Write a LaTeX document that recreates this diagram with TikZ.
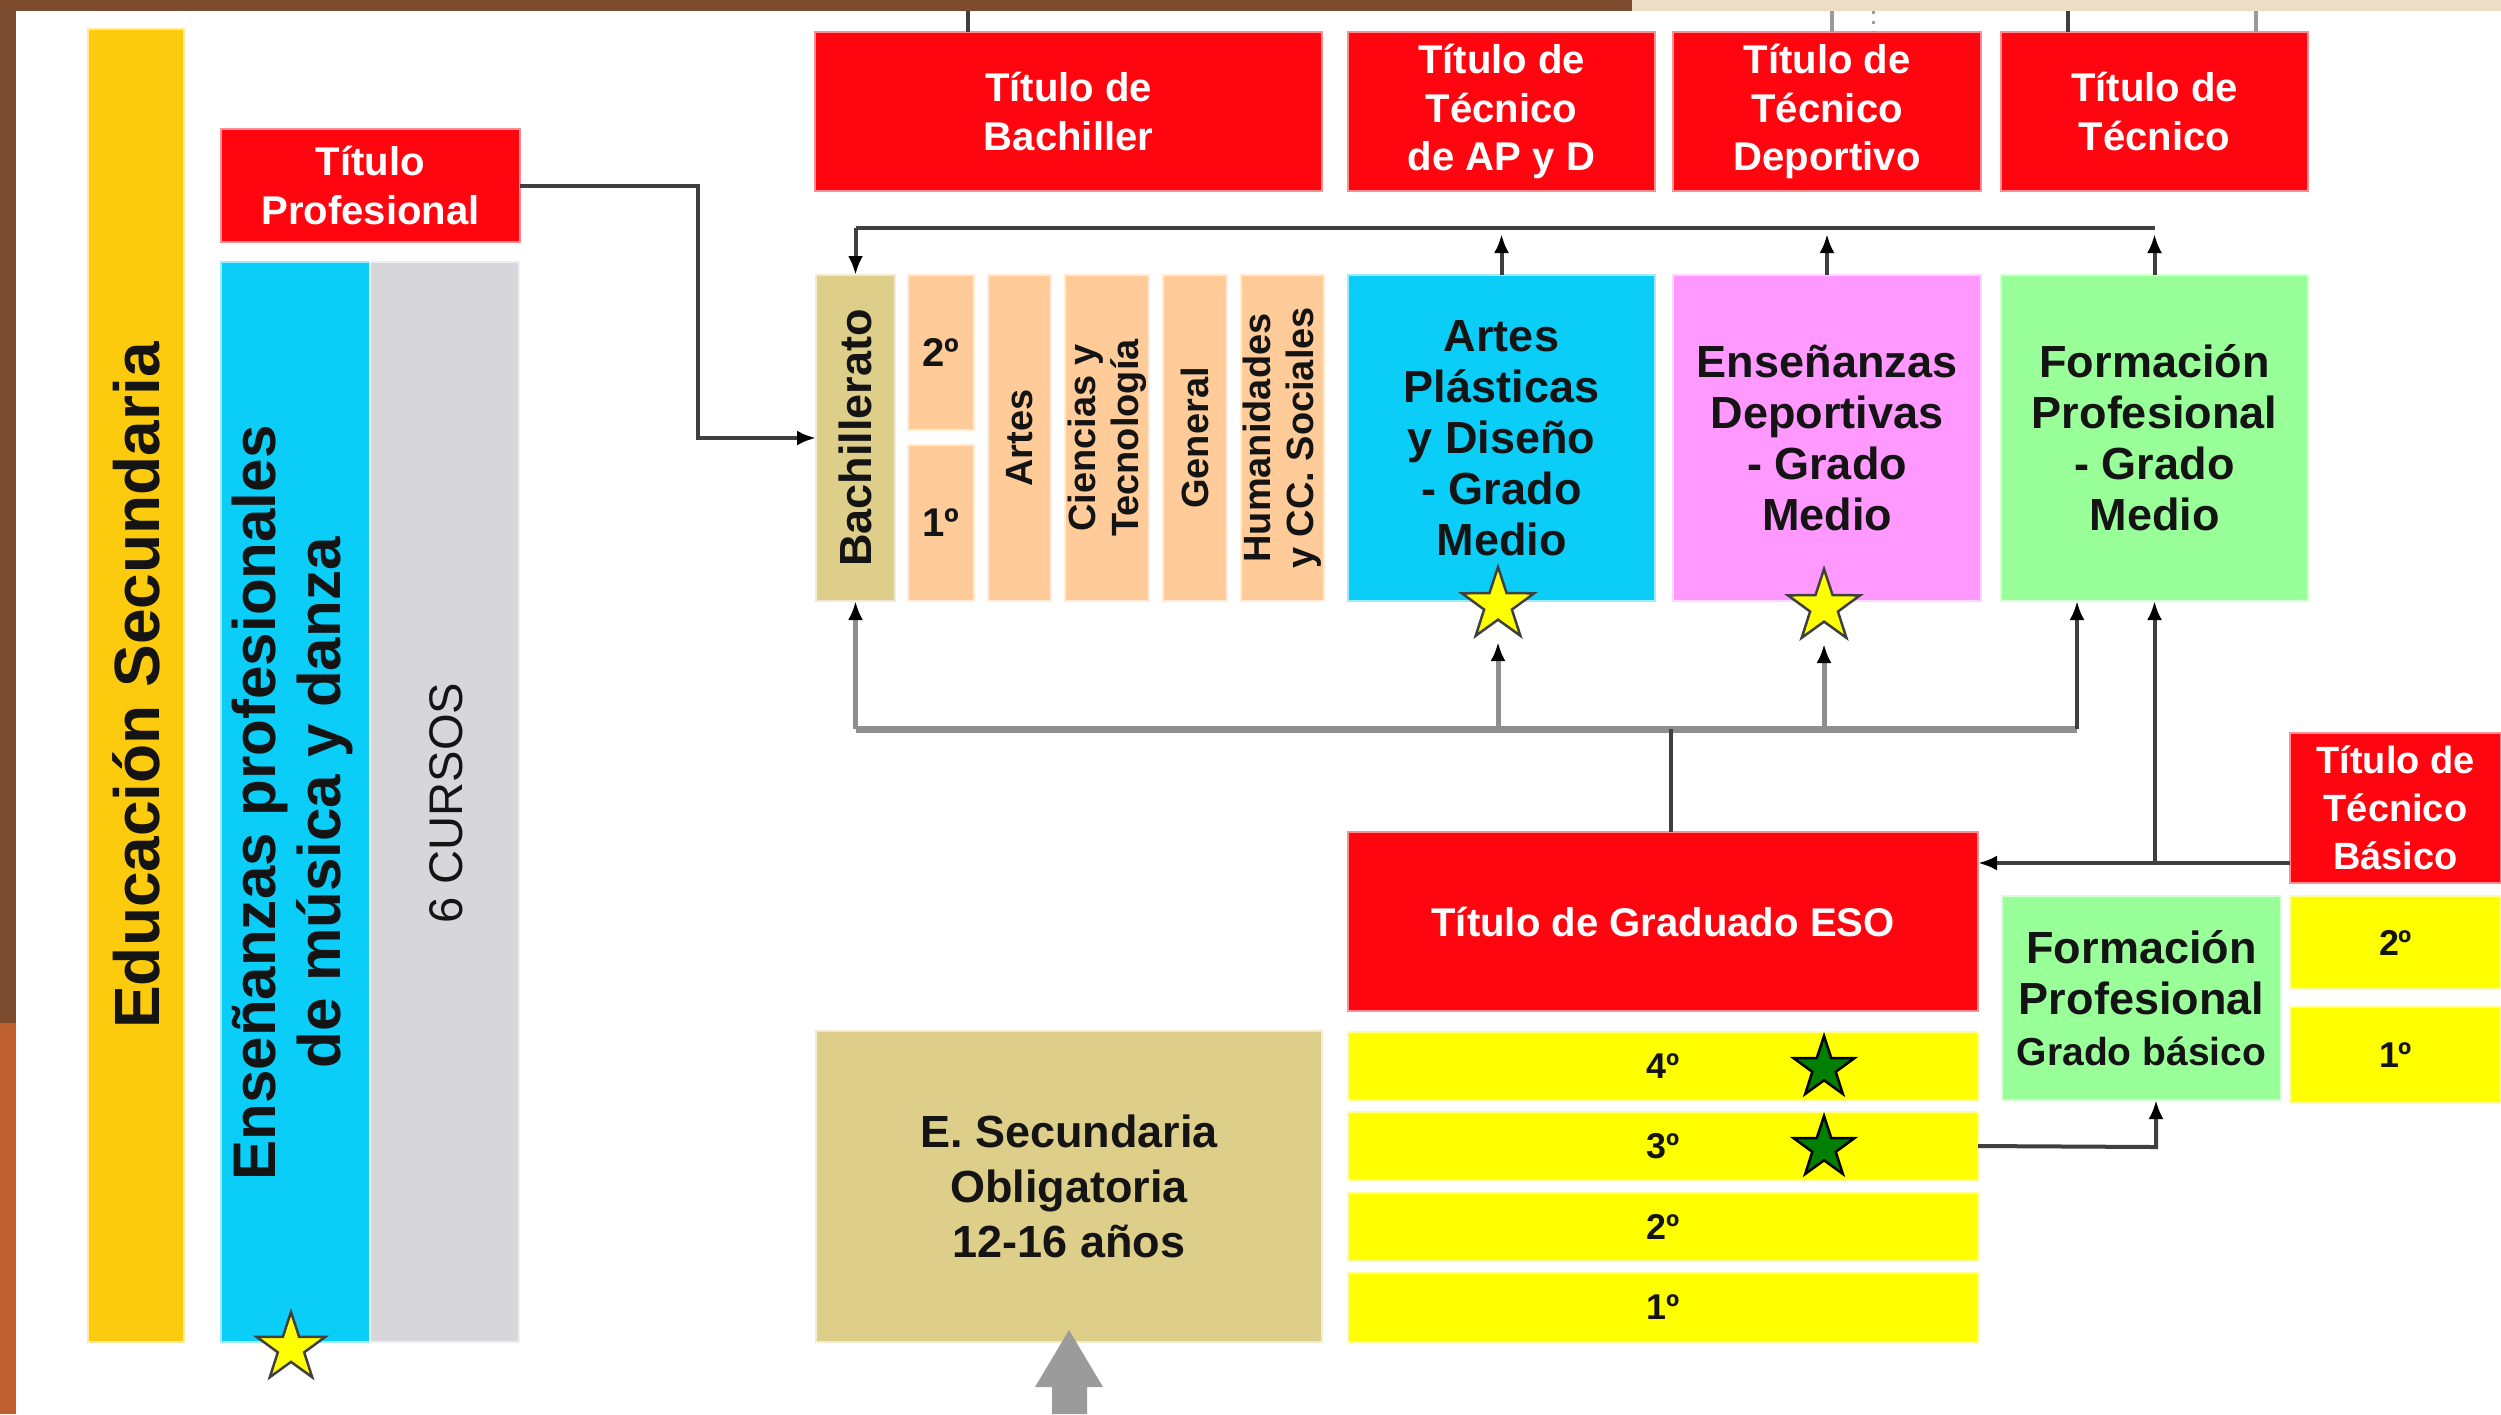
\documentclass[tikz,border=0pt]{standalone}
\usepackage{fontspec}
\setmainfont{Liberation Sans}
\usetikzlibrary{arrows.meta,shapes.geometric}
\definecolor{cred}{HTML}{FF0510}
\definecolor{cgold}{HTML}{FCCB0E}
\definecolor{ccyan}{HTML}{0ACEF8}
\definecolor{cgray}{HTML}{D7D6DB}
\definecolor{ckhaki}{HTML}{DDCE8A}
\definecolor{cpeach}{HTML}{FFCC99}
\definecolor{cpink}{HTML}{FF99FF}
\definecolor{cgreen}{HTML}{99FF99}
\definecolor{cyel}{HTML}{FFFF00}
\definecolor{cbrown}{HTML}{7D4B2D}
\definecolor{corange}{HTML}{BE5F2D}
\definecolor{cbeige}{HTML}{EDDCC6}
\definecolor{cline}{HTML}{3F3F3F}
\definecolor{cgline}{HTML}{8F8F8F}
\definecolor{cgstar}{HTML}{007F00}
\definecolor{carrow}{HTML}{9B9B9B}
\definecolor{ctext}{HTML}{141414}
\newcommand{\fs}[2]{\fontsize{#1}{#2}\selectfont}
\newcommand{\bx}[7]{\node[#6, minimum width={(#4-#2)*0.01cm}, minimum height={(#5-#3)*0.01cm}] (#1) at ({(#2+#4)/2},{(#3+#5)/2}) {#7};}
\tikzset{
  box/.style={rectangle, inner sep=0pt, outer sep=0pt, line width=0.025cm, align=center},
  redbox/.style={box, fill=cred, draw=cred!45!white, text=white, font=\bfseries\fs{11.4pt}{13.9pt}},
  goldbox/.style={box, fill=cgold, draw=cgold!40!white},
  cyanbox/.style={box, fill=ccyan, draw=ccyan!40!white, text=ctext},
  graybox/.style={box, fill=cgray, draw=cgray!40!white},
  khakibox/.style={box, fill=ckhaki, draw=ckhaki!40!white, text=ctext},
  peachbox/.style={box, fill=cpeach, draw=cpeach!40!white, text=ctext},
  pinkbox/.style={box, fill=cpink, draw=cpink!40!white, text=ctext},
  greenbox/.style={box, fill=cgreen, draw=cgreen!40!white, text=ctext},
  yelbox/.style={box, fill=cyel, draw=cyel!40!white, text=ctext, font=\bfseries\fs{10.2pt}{12pt}},
  bigtxt/.style={font=\bfseries\fs{12.8pt}{14.5pt}},
  rottxt/.style={rotate=90, align=center, text=ctext, inner sep=0pt},
  smallrot/.style={rottxt, font=\bfseries\fs{10.8pt}{12.2pt}},
  dk/.style={draw=cline, line width=0.04cm},
  gr/.style={draw=cgline, line width=0.05cm},
  tip/.style={-{Latex[length=0.19cm,width=0.15cm,color=black]}},
  ystar/.style={star, star points=5, star point ratio=2.6, inner sep=0pt, fill=cyel, draw=black!75, line width=0.025cm},
  gstar/.style={star, star points=5, star point ratio=2.6, inner sep=0pt, fill=cgstar, draw=black, line width=0.025cm}
}
\begin{document}
\begin{tikzpicture}[x=0.01cm,y=-0.01cm]
\useasboundingbox (0,0) rectangle (2501,1414);
\fill[white] (0,0) rectangle (2501,1414);
\fill[cbrown] (0,0) rectangle (1632,11);
\fill[cbeige] (1632,0) rectangle (2501,11);
\fill[cbrown] (0,0) rectangle (16,1023);
\fill[corange] (0,1023) rectangle (16,1414);

% left column
\bx{edu}{88}{29}{184}{1342}{goldbox}{}
\node[rottxt, font=\bfseries\fs{18.2pt}{20pt}] (edut) at (edu.center) {Educación Secundaria};
\bx{tprof}{221}{129}{520}{242}{redbox}{Título\\Profesional}
\bx{epmd}{221}{262}{370}{1342}{cyanbox}{}
\bx{curs}{370}{262}{519}{1342}{graybox}{}
\node[rottxt, font=\bfseries\fs{17.1pt}{18.5pt}] (epmdt) at (292,803) {Enseñanzas profesionales\\de música y danza};
\node[rottxt, font=\fs{13.4pt}{15pt}] (curst) at (446,803) {6 CURSOS};

% top titles
\bx{tbach}{815}{32}{1322}{191}{redbox}{Título de\\Bachiller}
\bx{tapd}{1348}{32}{1655}{191}{redbox}{Título de\\Técnico\\de AP y D}
\bx{tdep}{1673}{32}{1981}{191}{redbox}{Título de\\Técnico\\Deportivo}
\bx{ttec}{2001}{32}{2308}{191}{redbox}{Título de\\Técnico}

% middle row
\bx{bach}{816}{275}{895}{601}{khakibox}{}
\node[rottxt, font=\bfseries\fs{12.8pt}{14pt}] (bacht) at (bach.center) {Bachillerato};
\bx{b2}{908}{275}{974}{430}{peachbox, font=\bfseries\fs{11.4pt}{13pt}}{2º}
\bx{b1}{908}{445}{974}{601}{peachbox, font=\bfseries\fs{11.4pt}{13pt}}{1º}
\bx{artes}{988}{275}{1051}{601}{peachbox}{}
\bx{cyt}{1065}{275}{1149}{601}{peachbox}{}
\bx{gen}{1163}{275}{1227}{601}{peachbox}{}
\bx{hum}{1241}{275}{1324}{601}{peachbox}{}
\node[smallrot] (artest) at (artes.center) {Artes};
\node[smallrot] (cytt) at (cyt.center) {Ciencias y\\Tecnología};
\node[smallrot] (gent) at (gen.center) {General};
\node[smallrot] (humt) at (hum.center) {Humanidades\\y CC. Sociales};
\bx{apd}{1348}{275}{1655}{601}{cyanbox, bigtxt}{Artes\\Plásticas\\y Diseño\\- Grado\\Medio}
\bx{edep}{1673}{275}{1981}{601}{pinkbox, bigtxt}{Enseñanzas\\Deportivas\\- Grado\\Medio}
\bx{fpgm}{2001}{275}{2308}{601}{greenbox, bigtxt}{Formación\\Profesional\\- Grado\\Medio}

% lower part
\bx{eso}{1348}{832}{1978}{1011}{redbox}{Título de Graduado ESO}
\bx{r4}{1348}{1032}{1978}{1100}{yelbox}{4º}
\bx{r3}{1348}{1112}{1978}{1180}{yelbox}{3º}
\bx{r2}{1348}{1193}{1978}{1261}{yelbox}{2º}
\bx{r1}{1348}{1273}{1978}{1342}{yelbox}{1º}
\bx{esob}{816}{1031}{1322}{1342}{khakibox, font=\bfseries\fs{12.8pt}{15.6pt}}{E. Secundaria\\Obligatoria\\12-16 años}
\bx{fpgb}{2002}{896}{2281}{1100}{greenbox, font=\bfseries\fs{12.8pt}{14.6pt}}{Formación\\Profesional\\{\fs{11.1pt}{12.8pt}Grado básico}}
\bx{tbas}{2290}{733}{2501}{883}{redbox, font=\bfseries\fs{10.8pt}{13.7pt}}{Título de\\Técnico\\Básico}
\bx{bb2}{2290}{896}{2501}{989}{yelbox}{2º}
\bx{bb1}{2290}{1007}{2501}{1103}{yelbox}{1º}

% coordinates
\coordinate (busU) at (0,228);
\coordinate (busL) at (0,729);
\coordinate (tpx) at (698,300);
\coordinate (fpL) at (2077,729);
\coordinate (esoUp) at (1671,729);
\coordinate (tb) at (2290,863);
\coordinate (r3x) at (2156,1147);
\coordinate (s2tip) at (1498,642);
\coordinate (s3tip) at (1824,644);
\coordinate (st1) at (968,11);
\coordinate (st2) at (1832,11);
\coordinate (st3) at (1873,11);
\coordinate (st4) at (2068,11);
\coordinate (st5) at (2256,11);

% stubs to the top edge
\draw[dk] (st1) -- (st1 |- tbach.north);
\draw[draw=carrow, line width=0.04cm] (st2) -- (st2 |- tdep.north);
\draw[draw=carrow, line width=0.03cm, dotted] (st3) -- (st3 |- tdep.north);
\draw[dk] (st4) -- (st4 |- ttec.north);
\draw[draw=carrow, line width=0.04cm] (st5) -- (st5 |- ttec.north);

% upper bus
\draw[dk] (bach.north |- busU) -- (fpgm.north |- busU);
\draw[dk, tip] (bach.north |- busU) -- (bach.north);
\draw[dk, tip] (apd.north) -- ([yshift=-0.06cm]apd.north |- busU);
\draw[dk, tip] (edep.north) -- ([yshift=-0.06cm]edep.north |- busU);
\draw[dk, tip] (fpgm.north) -- ([yshift=-0.06cm]fpgm.north |- busU);

% titulo profesional to bachillerato
\draw[dk, tip] (tprof.east) -| (tpx) |- (bach.west);

% lower bus
\draw[gr, line width=0.07cm] (bach.south |- busL) -- (fpL);
\draw[gr, tip] (bach.south |- busL) -- (bach.south);
\draw[gr, tip] (s2tip |- busL) -- (s2tip);
\draw[gr, tip] (s3tip |- busL) -- (s3tip);
\draw[dk, tip] (fpL) -- (fpL |- fpgm.south);
\draw[dk] (esoUp |- eso.north) -- (esoUp);

% tecnico basico and FP basico
\draw[dk, tip] (tb) -- (tb -| eso.east);
\draw[dk, tip] (fpgm.south |- tb) -- (fpgm.south);
\draw[dk, tip] (r3.east) -- (r3x) -- (r3x |- fpgb.south);

% stars
\node[ystar, minimum size=0.72cm] (s1) at (291,1348) {};
\node[ystar, minimum size=0.76cm] (s2) at (1498,605) {};
\node[ystar, minimum size=0.76cm] (s3) at (1824,607) {};
\node[gstar, minimum size=0.64cm] (g4) at (1824,1068) {};
\node[gstar, minimum size=0.64cm] (g3) at (1824,1148) {};

% big gray arrow
\fill[carrow] (1069,1330) -- (1103,1387) -- (1087,1387) -- (1087,1414) -- (1052,1414) -- (1052,1387) -- (1035,1387) -- cycle;
\end{tikzpicture}
\end{document}
